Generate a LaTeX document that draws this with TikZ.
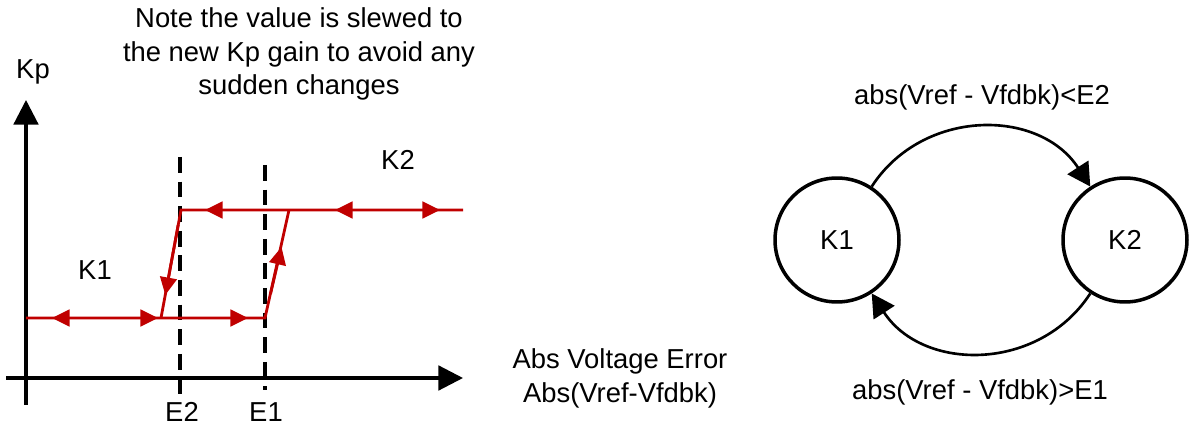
\documentclass[tikz,border=0pt]{standalone}
\usepackage{fontspec}
\setmainfont{Liberation Sans}
\usetikzlibrary{arrows.meta}
\definecolor{KpRed}{HTML}{C00000}

\tikzset{
  axisline/.style={line width=1.8pt,-{Triangle[length=14pt,width=14pt]}},
  limitline/.style={line width=1.8pt,dash pattern=on 9pt off 5pt},
  gainline/.style={KpRed,line width=1.6pt},
  gaintip/.style={KpRed,line width=1.6pt,-{Triangle[length=10pt,width=9.5pt]}},
  statenode/.style={circle,draw,line width=2pt,minimum size=2.48cm,inner sep=0pt},
  changearc/.style={line width=1.5pt,-{Triangle[length=13pt,width=14pt]}},
  every node/.style={font=\fontsize{15.6}{19.3}\selectfont}
}

\begin{document}
\begin{tikzpicture}[x=0.02cm,y=-0.02cm]
\path[use as bounding box] (0,0) rectangle (1191,435);
% gain curve with hysteresis
\coordinate (yfoot) at (26,405);
\coordinate (ytop) at (26,100);
\coordinate (xfoot) at (6,378);
\coordinate (xtop) at (463,378);
\draw[axisline] (yfoot) -- (ytop);
\draw[axisline] (xfoot) -- (xtop);
\node (kp) at (33,72) {Kp};
\draw[limitline] (180,157) -- (180,395);
\draw[limitline] (265,165) -- (265,390);
\node (e2) at (182,412) {E2};
\node (e1) at (266,412) {E1};
\coordinate (lowstart) at (26,318);
\coordinate (lowdrop) at (161,318);
\coordinate (lowrise) at (265,318);
\coordinate (highdrop) at (181,210);
\coordinate (highrise) at (289,210);
\coordinate (highend) at (463,210);
\draw[gainline] (lowstart) -- (lowrise) -- (highrise);
\draw[gainline] (highend) -- (highdrop) -- (lowdrop);
\draw[gaintip] (80,318) -- (52,318);
\draw[gaintip] (120,318) -- (158,318);
\draw[gaintip] (210,318) -- (248,318);
\draw[gaintip] (240,210) -- (205,210);
\draw[gaintip] (370,210) -- (335,210);
\draw[gaintip] (400,210) -- (440,210);
\draw[gaintip] (178.2,225) -- (165.3,295);
\draw[gaintip] (270.5,294) -- (281.5,247);
\node (k1txt) at (95,270) {K1};
\node (k2txt) at (398,160) {K2};
\node[align=center] (note) at (299,54) {Note the value is slewed to\\the new Kp gain to avoid any\\sudden changes};
\node[align=center] (xlabel) at (620,378) {Abs Voltage Error\\Abs(Vref-Vfdbk)};
% state machine
\node[statenode] (k1) at (837,240) {K1};
\node[statenode] (k2) at (1125,240) {K2};
\draw[changearc] (k1) to[bend left=57,looseness=1.1] (k2);
\draw[changearc] (k2) to[bend left=57,looseness=1.1] (k1);
\node (up) at (982,97) {abs(Vref - Vfdbk)<E2};
\node (down) at (980,392) {abs(Vref - Vfdbk)>E1};
\end{tikzpicture}
\end{document}
